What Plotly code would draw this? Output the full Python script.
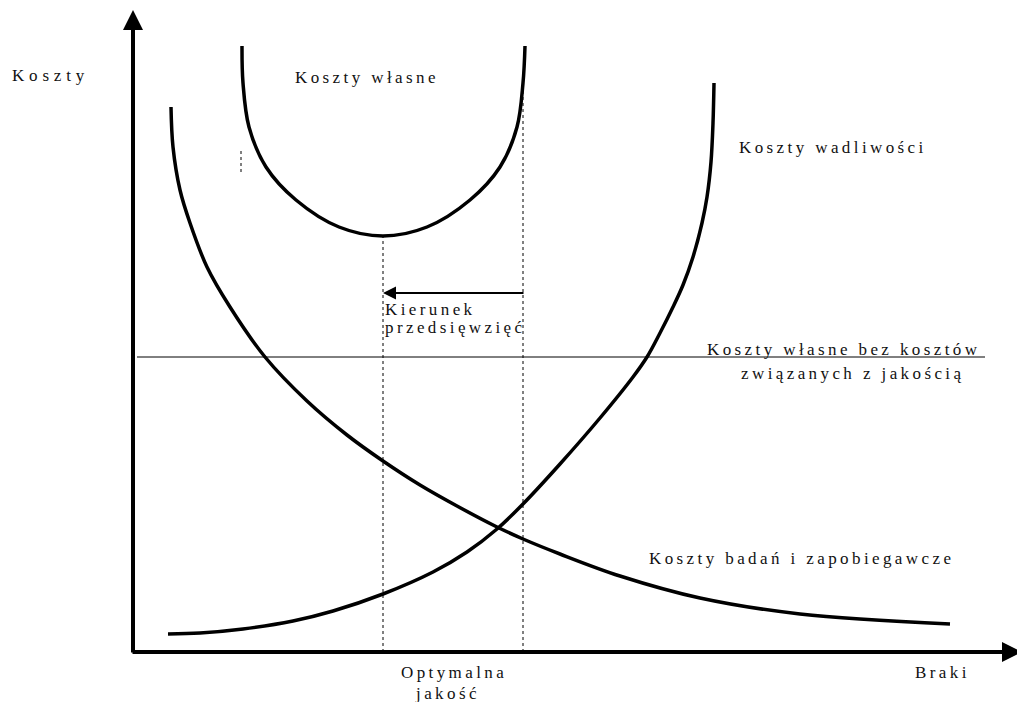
import plotly.graph_objects as go

# curves (x = braki, y = koszty, arbitrary units)
wad_x = [35, 67, 110, 160, 200, 250, 300, 334, 364, 390, 427, 467, 500, 514, 527, 540, 550, 560, 569, 574, 578, 580, 581]
wad_y = [18, 19, 23, 31, 41, 58, 80, 100, 123, 148, 188, 234, 275, 295, 319, 345, 367, 395, 429, 455, 490, 529, 569]

bad_x = [38, 40, 47, 57, 74, 97, 132, 174, 214, 250, 287, 324, 364, 390, 427, 487, 567, 667, 817]
bad_y = [545, 505, 462, 429, 385, 345, 295, 251, 217, 191, 167, 146, 125, 113, 98, 76, 54, 38, 28]

wl_x = [109, 110, 116, 133, 163, 206, 250, 294, 337, 367, 384, 390, 392]
wl_y = [606, 569, 525, 485, 452, 425, 416, 425, 452, 485, 525, 569, 606]

base_y = 295          # koszty własne bez kosztów jakości
base_x = [4, 852]
opt_x = 250           # optymalna jakość
right_x = 390
right_top = 565
opt_top = 415

TS = "\u2009"
HS = "\u200a"


def sp(s, sep=TS):
    return sep.join(s)


FONT = dict(family="Liberation Serif", size=17, color="#111111")

fig = go.Figure()

for xs, ys in [(wad_x, wad_y), (bad_x, bad_y), (wl_x, wl_y)]:
    fig.add_trace(go.Scatter(x=xs, y=ys, mode="lines", line=dict(color="black", width=3.5, shape="spline"),
                             hoverinfo="skip"))

fig.add_trace(go.Scatter(x=base_x, y=[base_y, base_y], mode="lines", line=dict(color="black", width=1),
                         hoverinfo="skip"))

dot = dict(color="black", width=1, dash="dot")
fig.add_trace(go.Scatter(x=[opt_x, opt_x], y=[0, opt_top], mode="lines", line=dot, hoverinfo="skip"))
fig.add_trace(go.Scatter(x=[right_x, right_x], y=[0, right_top], mode="lines", line=dot, hoverinfo="skip"))
fig.add_trace(go.Scatter(x=[108, 108], y=[480, 504], mode="lines", line=dot, hoverinfo="skip"))

# axes with arrows
fig.add_annotation(x=0, y=642, ax=0, ay=-2, xref="x", yref="y", axref="x", ayref="y",
                   showarrow=True, arrowhead=2, arrowwidth=4, arrowsize=1, arrowcolor="black", text="")
fig.add_annotation(x=889, y=0, ax=-2, ay=0, xref="x", yref="y", axref="x", ayref="y",
                   showarrow=True, arrowhead=2, arrowwidth=4, arrowsize=1, arrowcolor="black", text="")
# kierunek przedsięwzięć
fig.add_annotation(x=250, y=359, ax=392, ay=359, xref="x", yref="y", axref="x", ayref="y",
                   showarrow=True, arrowhead=2, arrowwidth=2, arrowsize=1.3, arrowcolor="black", text="")

labels = [
    ("Koszty", -123, 577, "left", TS + HS),
    ("Koszty własne", 160, 575, "left", TS),
    ("Koszty wadliwości", 604, 505, "left", TS),
    ("Kierunek", 250, 343, "left", TS),
    ("przedsięwzięć", 250, 325, "left", TS),
    ("Koszty własne bez kosztów", 709, 303, "center", TS),
    ("związanych z jakością", 718, 279, "center", TS),
    ("Koszty badań i zapobiegawcze", 514, 94, "left", TS),
    ("Optymalna", 319, -20, "center", TS),
    ("jakość", 313, -41, "center", TS),
    ("Braki", 780, -20, "left", TS),
]
for txt, x, y, al, sep in labels:
    fig.add_annotation(x=x, y=y, xref="x", yref="y", text=sp(txt, sep), showarrow=False,
                       xanchor=al, yanchor="middle", font=FONT)

fig.update_layout(
    width=1025, height=702, margin=dict(l=0, r=0, t=0, b=0),
    plot_bgcolor="white", paper_bgcolor="white", showlegend=False,
    xaxis=dict(range=[-125, 900], visible=False, fixedrange=True),
    yaxis=dict(range=[-58, 644], visible=False, fixedrange=True),
)
fig.write_html("out.html")
